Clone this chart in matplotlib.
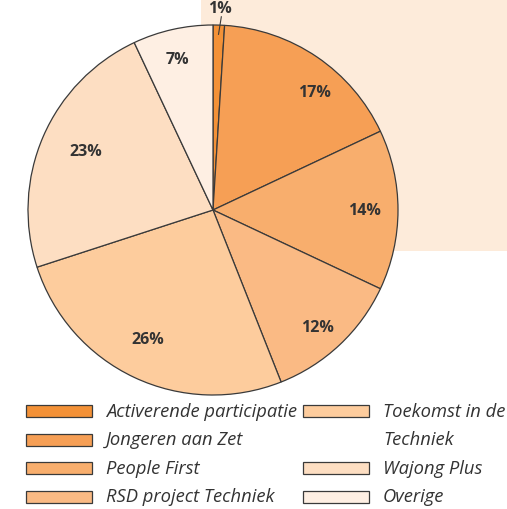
import matplotlib
matplotlib.use("Agg")
import matplotlib.pyplot as plt
from matplotlib.patches import Rectangle
import numpy as np

categories = ["Activerende participatie", "Jongeren aan Zet", "People First",
              "RSD project Techniek", "Toekomst in de\nTechniek", "Wajong Plus", "Overige"]
values = [1, 17, 14, 12, 26, 23, 7]
colors = ["#F39137", "#F69F55", "#F8AE6D", "#FABA84", "#FDCC9D", "#FDDEC2", "#FEEFE3"]

W, H = 507, 510
fig = plt.figure(figsize=(W / 100, H / 100), dpi=100)
fig.patch.set_facecolor("white")

# background panel
bg = Rectangle((201 / W, 1 - 252 / H), (W - 201) / W, 252 / H,
               transform=fig.transFigure, facecolor="#FDEBDA",
               edgecolor="none", zorder=-10)
fig.add_artist(bg)

cx, cy, r = 213, 211, 185
ax = fig.add_axes([(cx - r) / W, (H - cy - r) / H, 2 * r / W, 2 * r / H])
ax.set_zorder(2)
ax.patch.set_visible(False)
wedges, texts, autotexts = ax.pie(
    values, colors=colors, startangle=90, counterclock=False,
    autopct=lambda p: f"{p:.0f}%", pctdistance=0.83,
    wedgeprops=dict(edgecolor="#3a3a3a", linewidth=0.9),
    textprops=dict(fontsize=11.5, fontweight="bold", color="#333333", family="Open Sans"))
ax.set_xlim(-1, 1)
ax.set_ylim(-1, 1)
ax.set_aspect("equal")
ax.axis("off")

# fine placement of percentage labels (distance, angle shift in degrees)
label_dist = [None, 0.84, 0.82, 0.85, 0.78, 0.76, 0.84]
label_shift = [0, -6.5, 0, -1.5, -1.5, -1.5, 0.5]
for w, t, d, s in zip(wedges, autotexts, label_dist, label_shift):
    if d is None:
        continue
    a = np.deg2rad((w.theta1 + w.theta2) / 2 + s)
    t.set_position((d * np.cos(a), d * np.sin(a)))

# outside label for smallest slice
t0 = autotexts[0]
ang = np.deg2rad((wedges[0].theta1 + wedges[0].theta2) / 2)
t0.set_position((1.11 * np.cos(ang), 1.095 * np.sin(ang)))
t0.set_clip_on(False)
ax.plot([1.05 * np.cos(ang) + 0.012, 0.95 * np.cos(ang)],
        [1.045 * np.sin(ang), 0.95 * np.sin(ang)], color="#3a3a3a", lw=0.8,
        clip_on=False)

# legend
lax = fig.add_axes([0, 0, 1, 1])
lax.set_zorder(3)
lax.set_xlim(0, W)
lax.set_ylim(H, 0)
lax.axis("off")
rows_y = [412, 440.5, 469, 497.5]
positions = [(26, rows_y[0]), (26, rows_y[1]), (26, rows_y[2]), (26, rows_y[3]),
             (303, rows_y[0]), (303, rows_y[2]), (303, rows_y[3])]
for (x, y), c, lab in zip(positions, colors, categories):
    lax.add_patch(Rectangle((x, y - 6), 66, 12, facecolor=c, edgecolor="#3a3a3a", lw=0.9))
    lines = lab.split("\n")
    for i, ln in enumerate(lines):
        lax.text(x + 80, y + i * 28.5, ln, fontsize=13.2, style="italic",
                 color="#333333", va="center", ha="left", family="Open Sans")

fig.savefig("out.png", dpi=100)
